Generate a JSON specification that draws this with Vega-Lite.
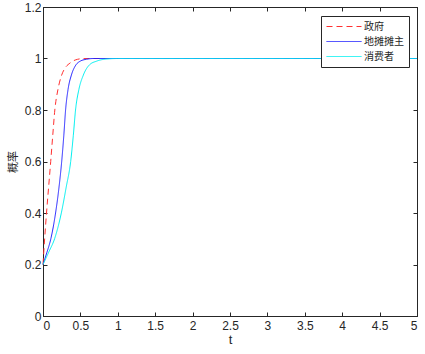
{
  "$schema": "https://vega.github.io/schema/vega-lite/v6.json",
  "width": 374,
  "height": 309,
  "autosize": "none",
  "padding": {"left": 43, "top": 7, "right": 8, "bottom": 38},
  "background": "white",
  "config": {
    "view": {"stroke": "#262626", "strokeWidth": 1},
    "axis": {
      "grid": false,
      "labelFont": "Liberation Sans",
      "labelFontSize": 12,
      "labelColor": "#262626",
      "domainColor": "#262626",
      "tickColor": "#262626",
      "tickSize": -4,
      "titleFontWeight": "normal",
      "titleColor": "#262626"
    }
  },
  "data": {
    "values": [
      {"t": 0, "p": 0.2, "s": "政府"},
      {"t": 0.022, "p": 0.3, "s": "政府"},
      {"t": 0.047, "p": 0.4, "s": "政府"},
      {"t": 0.075, "p": 0.5, "s": "政府"},
      {"t": 0.103, "p": 0.6, "s": "政府"},
      {"t": 0.13, "p": 0.7, "s": "政府"},
      {"t": 0.158, "p": 0.8, "s": "政府"},
      {"t": 0.2, "p": 0.88, "s": "政府"},
      {"t": 0.25, "p": 0.936, "s": "政府"},
      {"t": 0.3, "p": 0.965, "s": "政府"},
      {"t": 0.36, "p": 0.982, "s": "政府"},
      {"t": 0.43, "p": 0.994, "s": "政府"},
      {"t": 0.53, "p": 0.9995, "s": "政府"},
      {"t": 0.65, "p": 1, "s": "政府"},
      {"t": 5, "p": 1, "s": "政府"},
      {"t": 0, "p": 0.2, "s": "地摊摊主"},
      {"t": 0.05, "p": 0.245, "s": "地摊摊主"},
      {"t": 0.105, "p": 0.3, "s": "地摊摊主"},
      {"t": 0.168, "p": 0.4, "s": "地摊摊主"},
      {"t": 0.214, "p": 0.5, "s": "地摊摊主"},
      {"t": 0.25, "p": 0.6, "s": "地摊摊主"},
      {"t": 0.278, "p": 0.7, "s": "地摊摊主"},
      {"t": 0.302, "p": 0.8, "s": "地摊摊主"},
      {"t": 0.335, "p": 0.88, "s": "地摊摊主"},
      {"t": 0.38, "p": 0.936, "s": "地摊摊主"},
      {"t": 0.44, "p": 0.975, "s": "地摊摊主"},
      {"t": 0.5, "p": 0.99, "s": "地摊摊主"},
      {"t": 0.58, "p": 0.997, "s": "地摊摊主"},
      {"t": 0.68, "p": 1, "s": "地摊摊主"},
      {"t": 5, "p": 1, "s": "地摊摊主"},
      {"t": 0, "p": 0.2, "s": "消费者"},
      {"t": 0.08, "p": 0.25, "s": "消费者"},
      {"t": 0.155, "p": 0.3, "s": "消费者"},
      {"t": 0.245, "p": 0.4, "s": "消费者"},
      {"t": 0.31, "p": 0.5, "s": "消费者"},
      {"t": 0.37, "p": 0.6, "s": "消费者"},
      {"t": 0.405, "p": 0.7, "s": "消费者"},
      {"t": 0.435, "p": 0.8, "s": "消费者"},
      {"t": 0.48, "p": 0.88, "s": "消费者"},
      {"t": 0.54, "p": 0.936, "s": "消费者"},
      {"t": 0.62, "p": 0.975, "s": "消费者"},
      {"t": 0.72, "p": 0.99, "s": "消费者"},
      {"t": 0.85, "p": 0.998, "s": "消费者"},
      {"t": 1.0, "p": 1, "s": "消费者"},
      {"t": 5, "p": 1, "s": "消费者"}
    ]
  },
  "resolve": {"axis": {"x": "independent", "y": "independent"}},
  "layer": [
    {
      "mark": {"type": "line", "strokeWidth": 1, "interpolate": "monotone"},
      "encoding": {
        "x": {
          "field": "t", "type": "quantitative",
          "scale": {"domain": [0, 5], "nice": false, "zero": false},
          "axis": {"values": [0, 0.5, 1, 1.5, 2, 2.5, 3, 3.5, 4, 4.5, 5], "format": "~g", "title": "t", "titleFontSize": 13, "titleFont": "Liberation Sans", "labelPadding": 8, "titlePadding": 2}
        },
        "y": {
          "field": "p", "type": "quantitative",
          "scale": {"domain": [0, 1.2], "nice": false},
          "axis": {"values": [0, 0.2, 0.4, 0.6, 0.8, 1, 1.2], "format": "~g", "title": "概率", "titleFont": "Noto Sans CJK SC", "titleFontSize": 11, "labelPadding": 6, "titlePadding": 6}
        },
        "color": {
          "field": "s", "type": "nominal",
          "scale": {"domain": ["政府", "地摊摊主", "消费者"], "range": ["#ff3030", "#2020ff", "#00f0f0"]},
          "legend": {
            "title": null,
            "orient": "none",
            "legendX": 278,
            "legendY": 9,
            "symbolType": "M-1,0H6",
            "symbolSize": 100,
            "symbolStrokeWidth": 1,
            "labelFont": "Noto Sans CJK SC",
            "labelFontSize": 10,
            "labelOffset": 27,
            "labelColor": "#262626",
            "strokeColor": "#262626",
            "fillColor": "white",
            "padding": 5,
            "rowPadding": 4
          }
        },
        "strokeDash": {
          "field": "s", "type": "nominal",
          "scale": {"domain": ["政府", "地摊摊主", "消费者"], "range": [[6, 4], [1, 0], [1, 0]]}
        }
      }
    },
    {
      "mark": {"type": "point", "opacity": 0},
      "encoding": {
        "x": {"field": "t", "type": "quantitative", "axis": {"orient": "top", "values": [0, 0.5, 1, 1.5, 2, 2.5, 3, 3.5, 4, 4.5, 5], "labels": false, "title": null}},
        "y": {"field": "p", "type": "quantitative", "axis": {"orient": "right", "values": [0, 0.2, 0.4, 0.6, 0.8, 1, 1.2], "labels": false, "title": null}}
      }
    }
  ]
}
